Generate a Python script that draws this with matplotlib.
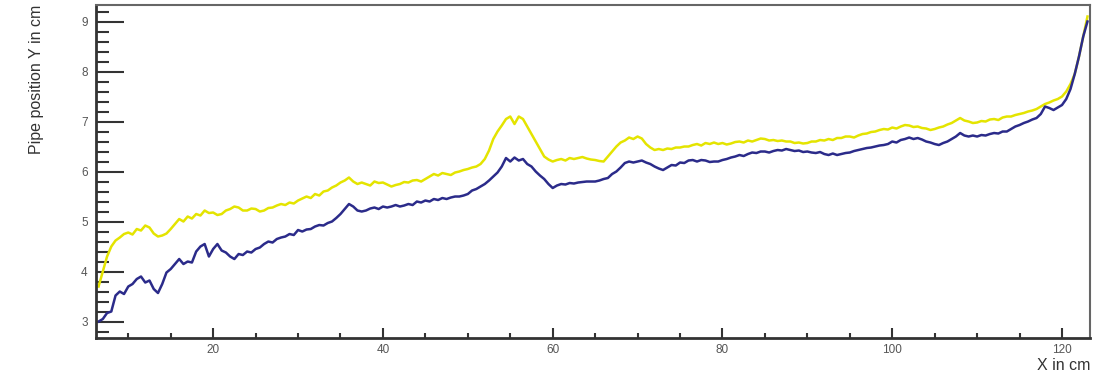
import numpy as np
import matplotlib.pyplot as plt
from matplotlib.ticker import MultipleLocator

# sample positions along the pipe (cm), one reading every 0.5 cm
x_pos = np.arange(6.5, 123.01, 0.5)

# upper trace (yellow)
y_top = [3.7, 4.0, 4.3, 4.5, 4.62, 4.68, 4.75,
         4.78, 4.74, 4.85, 4.82, 4.92, 4.88, 4.76, 4.7, 4.72, 4.76,
         4.85, 4.95, 5.05, 5.0, 5.1, 5.06, 5.15, 5.12, 5.22, 5.17,
         5.18, 5.13, 5.15, 5.22, 5.25, 5.3, 5.28, 5.22, 5.22, 5.26,
         5.25, 5.2, 5.22, 5.27, 5.28, 5.32, 5.35, 5.33, 5.38, 5.36,
         5.42, 5.46, 5.5, 5.47, 5.55, 5.52, 5.6, 5.62, 5.68, 5.72,
         5.78, 5.82, 5.88, 5.8, 5.75, 5.78, 5.75, 5.72, 5.8, 5.77,
         5.78, 5.74, 5.7, 5.73, 5.75, 5.79, 5.78, 5.82, 5.83, 5.8,
         5.85, 5.9, 5.95, 5.92, 5.97, 5.95, 5.93, 5.98, 6.0, 6.03,
         6.05, 6.08, 6.1, 6.15, 6.25, 6.42, 6.65, 6.8, 6.92, 7.05,
         7.1, 6.95, 7.1, 7.05, 6.9, 6.75, 6.6, 6.45, 6.3, 6.24,
         6.2, 6.23, 6.25, 6.22, 6.27, 6.25, 6.27, 6.29, 6.26, 6.24,
         6.23, 6.21, 6.2, 6.3, 6.4, 6.5, 6.58, 6.62, 6.68, 6.65,
         6.7, 6.66, 6.55, 6.48, 6.43, 6.45, 6.43, 6.46, 6.45, 6.48,
         6.48, 6.5, 6.5, 6.53, 6.55, 6.52, 6.57, 6.55, 6.58, 6.55,
         6.57, 6.54, 6.56, 6.59, 6.6, 6.58, 6.62, 6.6, 6.63, 6.66,
         6.65, 6.62, 6.63, 6.61, 6.62, 6.6, 6.6, 6.57, 6.58, 6.56,
         6.57, 6.6, 6.6, 6.63, 6.62, 6.65, 6.63, 6.67, 6.67, 6.7,
         6.7, 6.68, 6.72, 6.75, 6.76, 6.79, 6.8, 6.83, 6.85, 6.84,
         6.88, 6.86, 6.9, 6.93, 6.92, 6.89, 6.9, 6.87, 6.86, 6.83,
         6.85, 6.88, 6.9, 6.94, 6.97, 7.02, 7.07, 7.02, 7.0, 6.97,
         6.98, 7.01, 7.0, 7.04, 7.05, 7.03, 7.08, 7.1, 7.1, 7.13,
         7.15, 7.17, 7.2, 7.22, 7.25, 7.3, 7.35, 7.38, 7.42, 7.45,
         7.5, 7.6, 7.75, 7.95, 8.3, 8.7, 9.1]

# lower trace (dark blue)
y_bot = [3.0, 3.05, 3.17, 3.2, 3.52, 3.6, 3.55,
         3.7, 3.75, 3.85, 3.9, 3.78, 3.82, 3.65, 3.57, 3.75, 3.98,
         4.05, 4.15, 4.25, 4.15, 4.2, 4.18, 4.4, 4.5, 4.55, 4.3,
         4.45, 4.55, 4.42, 4.38, 4.3, 4.25, 4.35, 4.33, 4.4, 4.38,
         4.45, 4.48, 4.55, 4.6, 4.58, 4.65, 4.68, 4.7, 4.75, 4.73,
         4.83, 4.8, 4.84, 4.85, 4.9, 4.93, 4.92, 4.97, 5.0, 5.07,
         5.15, 5.25, 5.35, 5.3, 5.22, 5.2, 5.22, 5.26, 5.28, 5.25,
         5.3, 5.28, 5.3, 5.33, 5.3, 5.32, 5.35, 5.33, 5.4, 5.38,
         5.42, 5.4, 5.45, 5.43, 5.47, 5.45, 5.48, 5.5, 5.5, 5.52,
         5.55, 5.62, 5.65, 5.7, 5.75, 5.82, 5.9, 5.98, 6.1, 6.27,
         6.2, 6.28, 6.22, 6.25, 6.15, 6.1, 6.0, 5.92, 5.85, 5.75,
         5.67, 5.72, 5.75, 5.74, 5.77, 5.76, 5.78, 5.79, 5.8, 5.8,
         5.8, 5.82, 5.85, 5.87, 5.95, 6.0, 6.08, 6.17, 6.2, 6.18,
         6.2, 6.22, 6.18, 6.15, 6.1, 6.06, 6.03, 6.08, 6.13, 6.12,
         6.18, 6.17, 6.22, 6.23, 6.2, 6.23, 6.22, 6.19, 6.2, 6.2,
         6.23, 6.25, 6.28, 6.3, 6.33, 6.31, 6.35, 6.38, 6.37, 6.4,
         6.4, 6.38, 6.41, 6.43, 6.42, 6.45, 6.43, 6.41, 6.42, 6.39,
         6.4, 6.38, 6.37, 6.39, 6.35, 6.33, 6.36, 6.33, 6.35, 6.37,
         6.38, 6.41, 6.43, 6.45, 6.47, 6.48, 6.5, 6.52, 6.53, 6.55,
         6.6, 6.58, 6.63, 6.65, 6.68, 6.65, 6.67, 6.64, 6.6, 6.58,
         6.55, 6.53, 6.57, 6.6, 6.65, 6.7, 6.77, 6.72, 6.7, 6.72,
         6.7, 6.73, 6.72, 6.75, 6.77, 6.76, 6.8, 6.8, 6.85, 6.9,
         6.93, 6.97, 7.0, 7.04, 7.07, 7.15, 7.3, 7.27, 7.23, 7.28,
         7.33, 7.45, 7.65, 7.95, 8.3, 8.7, 9.0]

plt.rcParams["font.family"] = ["Liberation Sans", "DejaVu Sans"]

fig = plt.figure(figsize=(11.1, 3.77), dpi=100)
ax = fig.add_axes([0.0865, 0.1034, 0.8955, 0.8833])

ax.plot(x_pos, y_top, color="#e4e400", lw=1.8)
ax.plot(x_pos, y_bot, color="#2b2b8a", lw=1.8)

ax.set_xlim(6.2, 123.3)
ax.set_ylim(2.67, 9.33)

ax.xaxis.set_major_locator(MultipleLocator(20))
ax.xaxis.set_minor_locator(MultipleLocator(5))
ax.yaxis.set_major_locator(MultipleLocator(1))
ax.yaxis.set_minor_locator(MultipleLocator(0.2))

ax.tick_params(axis="x", which="major", direction="in", length=7, width=1.5,
               color="#333333", labelsize=8.5, labelcolor="#555555", pad=4)
ax.tick_params(axis="x", which="minor", direction="in", length=3.6, width=1.5,
               color="#333333")
ax.tick_params(axis="y", which="major", direction="in", length=20, width=1.5,
               color="#333333", labelsize=8.5, labelcolor="#555555", pad=6)
ax.tick_params(axis="y", which="minor", direction="in", length=9.5, width=1.5,
               color="#333333")

for side in ["left", "bottom"]:
    ax.spines[side].set_linewidth(2)
    ax.spines[side].set_color("#333333")
for side in ["top", "right"]:
    ax.spines[side].set_linewidth(1.5)
    ax.spines[side].set_color("#666666")

fig.text(0.033, 0.987, "Pipe position Y in cm", rotation=90, ha="center",
         va="top", fontsize=11.5, color="#333333")
fig.text(0.982, 0.01, "X in cm", ha="right", va="bottom", fontsize=11.5,
         color="#333333")

fig.savefig("out.png", dpi=100)
